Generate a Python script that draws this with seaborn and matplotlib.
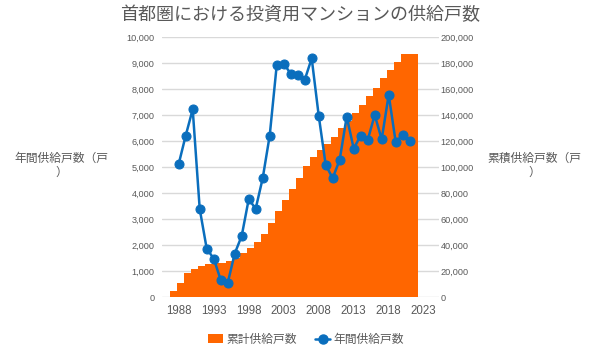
import numpy as np
import pandas as pd
import matplotlib
matplotlib.use("Agg")
import matplotlib.pyplot as plt
from matplotlib.ticker import FuncFormatter, FixedLocator
from matplotlib.patches import Patch
from matplotlib.lines import Line2D
import seaborn as sns

# ---- data ----
years = list(range(1988, 2022))
annual_units = [5130, 6220, 7230, 3400, 1870, 1490, 670, 550, 1680, 2360,
                3770, 3410, 4580, 6220, 8920, 8990, 8600, 8540, 8360, 9190,
                6990, 5090, 4580, 5290, 6950, 5720, 6220, 6050, 7010, 6080,
                7790, 5970, 6250, 6020]
cumulative_units = [5130, 11350, 18580, 21980, 23850, 25340, 26010, 26560, 28240, 30600,
                    34370, 37780, 42360, 48580, 57500, 66490, 75090, 83630, 91990, 101180,
                    108170, 113260, 117840, 123130, 130080, 135800, 142020, 148070, 155080, 161160,
                    168950, 174920, 181170, 187190]
xtick_years = [1988, 1993, 1998, 2003, 2008, 2013, 2018, 2023]
title = "首都圏における投資用マンションの供給戸数"
left_label = "年間供給戸数（戸\n）"
right_label = "累積供給戸数（戸\n）"
legend_labels = ["累計供給戸数", "年間供給戸数"]

ORANGE = "#FF6600"
BLUE = "#0A6EBD"
GRAY = "#595959"
GRID = "#D9D9D9"

sns.set_style("white")
plt.rcParams["font.family"] = ["Liberation Sans", "Noto Sans CJK JP", "DejaVu Sans"]

df = pd.DataFrame({"year": years, "annual": annual_units, "cumulative": cumulative_units})

fig = plt.figure(figsize=(6, 3.6), dpi=100)
ax = fig.add_axes([0.2695, 0.1742, 0.7317 - 0.2695, 0.8964 - 0.1742])
ax2 = ax.twinx()
ax.set_zorder(2)
ax2.set_zorder(1)
ax.patch.set_visible(False)

# cumulative stepped area (right axis)
edges = np.append(df["year"].to_numpy() - 1.24, df["year"].iloc[-1] + 1.2)
heights = np.append(df["cumulative"].to_numpy(), df["cumulative"].iloc[-1])
ax2.fill_between(edges, heights, step="post", color=ORANGE, linewidth=0, zorder=2)

# annual line (left axis)
sns.lineplot(data=df, x="year", y="annual", ax=ax, color=BLUE, linewidth=1.8,
             marker="o", markersize=6.5, markeredgecolor=BLUE, markerfacecolor=BLUE)

ax.set_xlim(1985.57, 2025.19)
ax.set_ylim(0, 10000)
ax2.set_ylim(0, 200000)
ax.yaxis.set_major_locator(FixedLocator(np.arange(0, 10001, 1000)))
ax2.yaxis.set_major_locator(FixedLocator(np.arange(0, 200001, 20000)))
ax.xaxis.set_major_locator(FixedLocator(xtick_years))
fmt = FuncFormatter(lambda v, p: f"{int(v):,}")
ax.yaxis.set_major_formatter(fmt)
ax2.yaxis.set_major_formatter(fmt)
ax.xaxis.set_major_formatter(FuncFormatter(lambda v, p: f"{int(v)}"))

ax2.grid(axis="y", color=GRID, linewidth=1.0, zorder=0)
ax2.set_axisbelow(True)
ax.grid(False)

for a in (ax, ax2):
    for s in a.spines.values():
        s.set_visible(False)
ax.tick_params(axis="y", length=0, pad=5, labelsize=6.6, labelcolor=GRAY)
ax2.tick_params(axis="y", length=0, pad=1, labelsize=6.6, labelcolor=GRAY)
ax.tick_params(axis="x", length=0, pad=5.5, labelsize=8.3, labelcolor=GRAY)
ax.set_xlabel("")
ax.set_ylabel("")
ax2.set_ylabel("")

fig.text(0.5, 1 - 15 / 360, title, ha="center", va="center", fontsize=13, color=GRAY)
fig.text(61.5 / 600, 1 - 165.5 / 360, left_label, ha="center", va="center",
         multialignment="center", fontsize=8.5, color=GRAY, linespacing=1.25)
fig.text(534 / 600, 1 - 165.5 / 360, right_label, ha="center", va="center",
         multialignment="center", fontsize=8.5, color=GRAY, linespacing=1.25)

handles = [Patch(facecolor=ORANGE, edgecolor="none"),
           Line2D([0], [0], color=BLUE, linewidth=1.8, marker="o", markersize=6.5)]
leg = fig.legend(handles, legend_labels, loc="center", bbox_to_anchor=(306 / 600, 1 - 340 / 360),
                 ncol=2, frameon=False, fontsize=8.5, handlelength=1.2, handleheight=0.8,
                 handletextpad=0.3, columnspacing=1.6)
for t in leg.get_texts():
    t.set_color(GRAY)

fig.savefig("out.png", dpi=100)
